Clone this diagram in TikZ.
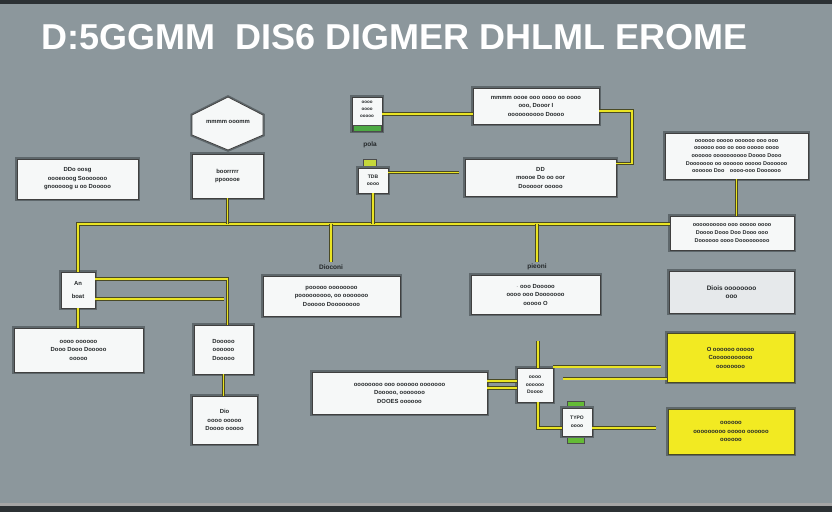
\documentclass[tikz,border=0pt]{standalone}
\usepackage{fontspec}
\setmainfont{Liberation Sans}
\usetikzlibrary{calc}
\definecolor{bg}{HTML}{8C979C}
\definecolor{bandc}{HTML}{2C3134}
\definecolor{boxfill}{HTML}{F6F8F8}
\definecolor{graybox}{HTML}{E6E9EB}
\definecolor{yelbox}{HTML}{F2EA22}
\definecolor{wirey}{HTML}{EAE423}
\definecolor{wired}{HTML}{4A4A24}
\definecolor{textc}{HTML}{24282A}
\definecolor{halo}{HTML}{5E676B}
\definecolor{greenbar}{HTML}{4DAA44}
\definecolor{limebar}{HTML}{C6D83A}
\tikzset{
  box/.style={draw=black!75, line width=0.8pt, fill=boxfill, inner sep=0pt,
    align=center, text=textc, font=\fontsize{5.9}{8.5}\selectfont\bfseries,
    preaction={draw=halo, line width=3.5pt}},
  ybox/.style={box, fill=yelbox, draw=wired},
  gbox/.style={box, fill=graybox},
  shapeline/.style={draw=black!75, line width=0.8pt, fill=boxfill,
    preaction={draw=halo, line width=3.5pt}},
  lbl/.style={inner sep=0pt, text=textc, font=\fontsize{6.5}{8}\selectfont\bfseries},
  wire/.style={draw=wired, line width=0.6pt, double=wirey, double distance=1.9pt},
  bar/.style={draw=black!70, line width=0.5pt, inner sep=0pt},
}
\begin{document}
\begin{tikzpicture}[x=1pt,y=-1pt]
\useasboundingbox (0,0) rectangle (832,512);
% background
\fill[bg] (0,0) rectangle (832,512);
\fill[bandc] (0,0) rectangle (832,4);
\fill[bandc] (0,506) rectangle (832,512);
\fill[black!35] (0,503) rectangle (832,506);
% title
\node[anchor=base west, text=white, font=\fontsize{36}{36}\selectfont\bfseries,
  preaction={}] (title) at (38,49) {D:5GGMM\ \ DIS6 DIGMER DHLML EROME};
% hexagon
\draw[shapeline] (192,115) -- (228,97) -- (263,115) -- (263,135) -- (228,150) -- (192,135) -- cycle;
\node[lbl, font=\fontsize{5.9}{8}\selectfont\bfseries] (hex) at (228,122) {mmmm ooomm};
% upper boxes
\node[box, minimum width=71pt, minimum height=44pt] (b2) at (227.5,176) {boorrrrr\\ ppooooe};
\node[box, minimum width=121pt, minimum height=40pt] (b3) at (77.5,179) {DDo oosg\\ oooeooog Sooooooo\\ gnooooog u oo Dooooo};
\node[box, minimum width=30pt, minimum height=34pt, font=\fontsize{4.5}{7}\selectfont\bfseries] (b4) at (367,114) {oooo\\ oooo\\ ooooo\\[2pt]};
\node[bar, fill=greenbar, minimum width=28pt, minimum height=6pt] (b4bar) at (367,128) {};
\node[lbl] (pola) at (370,145) {pola};
\node[bar, fill=limebar, minimum width=13pt, minimum height=8pt] (lime) at (370,163) {};
\node[box, minimum width=30pt, minimum height=25pt, font=\fontsize{5}{7.5}\selectfont\bfseries] (b7) at (373,180.5) {TDB\\ oooo};
\node[box, minimum width=126pt, minimum height=36pt] (b8) at (536,106) {mmmm oooe ooo oooo oo oooo\\ ooo, Dooor I\\ oooooooooo Doooo};
\node[box, minimum width=151pt, minimum height=37pt] (b9) at (540.5,177.5) {DD\\ moooe Do oo oor\\ Dooooor ooooo};
\node[box, minimum width=143pt, minimum height=46pt, font=\fontsize{5.5}{7.6}\selectfont\bfseries] (b10) at (736.5,156) {oooooo ooooo oooooo ooo ooo\\ oooooo ooo oo ooo ooooo oooo\\ oooooo oooooooooo Doooo Dooo\\ Dooooooo oo oooooo ooooo Doooooo\\ oooooo Doo\quad oooo-ooo Doooooo};
\node[box, minimum width=124pt, minimum height=34pt, font=\fontsize{5.5}{8}\selectfont\bfseries] (b11) at (732,233) {oooooooooo ooo ooooo oooo\\ Doooo Dooo Doo Dooo ooo\\ Doooooo oooo Dooooooooo};
% lower boxes
\node[box, minimum width=34pt, minimum height=36pt] (an) at (78,290) {An\\[4pt] boat};
\node[box, minimum width=129pt, minimum height=44pt] (b23) at (78.5,350) {oooo oooooo\\ Dooo Dooo Dooooo\\ ooooo};
\node[box, minimum width=59pt, minimum height=49pt] (b20) at (223.5,349.5) {Dooooo\\ oooooo\\ Dooooo};
\node[box, minimum width=65pt, minimum height=48pt] (b22) at (224.5,420) {Dio\\ oooo ooooo\\ Doooo ooooo};
\node[lbl] (lab1) at (331,267) {Dioconi};
\node[box, minimum width=137pt, minimum height=40pt] (b24) at (331.5,296) {pooooo oooooooo\\ pooooooooo, oo ooooooo\\ Dooooo Doooooooo};
\node[lbl] (lab2) at (537,267) {pieoni};
\node[box, minimum width=129pt, minimum height=39pt] (b25) at (535.5,294.5) {$\cdot$ ooo Dooooo\\ oooo ooo Dooooooo\\ ooooo O};
\node[gbox, minimum width=125pt, minimum height=42pt, font=\fontsize{6.5}{8.5}\selectfont\bfseries] (b26) at (731.5,292) {Diois oooooooo\\ ooo};
\node[ybox, minimum width=127pt, minimum height=49pt] (b27) at (730.5,357.5) {O oooooo ooooo\\ Cooooooooooo\\ oooooooo};
\node[ybox, minimum width=126pt, minimum height=45pt] (b28) at (731,431.5) {oooooo\\ ooooooooo ooooo oooooo\\ oooooo};
\node[box, minimum width=175pt, minimum height=42pt] (b29) at (399.5,393) {oooooooo ooo oooooo ooooooo\\ Dooooo, ooooooo\\ DOOES oooooo};
\node[box, minimum width=36pt, minimum height=34pt, font=\fontsize{5}{7.5}\selectfont\bfseries] (b30) at (535,385) {oooo\\ oooooo\\ Doooo};
\node[bar, fill=greenbar!80!lime, minimum width=17pt, minimum height=7pt] (b31top) at (576,404.5) {};
\node[bar, fill=greenbar!80!lime, minimum width=17pt, minimum height=7pt] (b31bot) at (576,439.5) {};
\node[box, minimum width=30pt, minimum height=28pt, font=\fontsize{5}{7.5}\selectfont\bfseries] (b31) at (577,422) {TYPO\\ oooo};
% coordinates
\coordinate (busy) at (0,224);
\coordinate (c1) at (632,140);
\coordinate (c2) at (538,341);
% bus and connectors (upper)
\draw[wire] (an.north) |- (b11.west |- busy);
\draw[wire] (b2.south) -- (b2.south |- busy);
\draw[wire] (b7.south) -- (b7.south |- busy);
\draw[wire] (lab1.north |- busy) -- ([yshift=2pt]lab1.north);
\draw[wire] (lab2.north |- busy) -- ([yshift=2pt]lab2.north);
\draw[wire] (b4.east) -- (b4.east -| b8.west);
\draw[wire] ([yshift=-5pt]b8.east) -| (c1) |- ([yshift=14pt]b9.east);
\draw[wire, shorten >=6pt] ([yshift=8pt]b7.east) -- ([yshift=8pt]b7.east -| b9.west);
\draw[wire] (b10.south) -- (b10.south |- b11.north);
% connectors (lower)
\draw[wire] (an.south) -- (an.south |- b23.north);
\draw[wire] ([yshift=11pt]an.east) -| ([xshift=4pt]b20.north);
\draw[wire] ([yshift=-9pt]an.east) -- ([yshift=-9pt]an.east -| b20.north);
\draw[wire] (b20.south) -- (b20.south |- b22.north);
\draw[wire] ([yshift=4pt]b30.west) -- ([yshift=4pt]b30.west -| b29.east);
\draw[wire] ([yshift=-3pt]b30.west) -- ([yshift=-3pt]b30.west -| b29.east);
\draw[wire] ([xshift=3pt]b30.north) -- ([xshift=3pt]b30.north |- c2);
\draw[wire, shorten >=6pt] ([yshift=1pt]b30.north east) -- ([yshift=1pt]b30.north east -| b27.west);
\draw[wire, shorten <=10pt] ([yshift=-11pt]b30.north east) -- ([yshift=-11pt]b30.north east -| b27.west);
\draw[wire] ([xshift=3pt]b30.south) |- ([yshift=-6pt]b31.west);
\draw[wire, shorten >=12pt] ([yshift=-6pt]b31.east) -- ([yshift=-6pt]b31.east -| b28.west);
\end{tikzpicture}
\end{document}
